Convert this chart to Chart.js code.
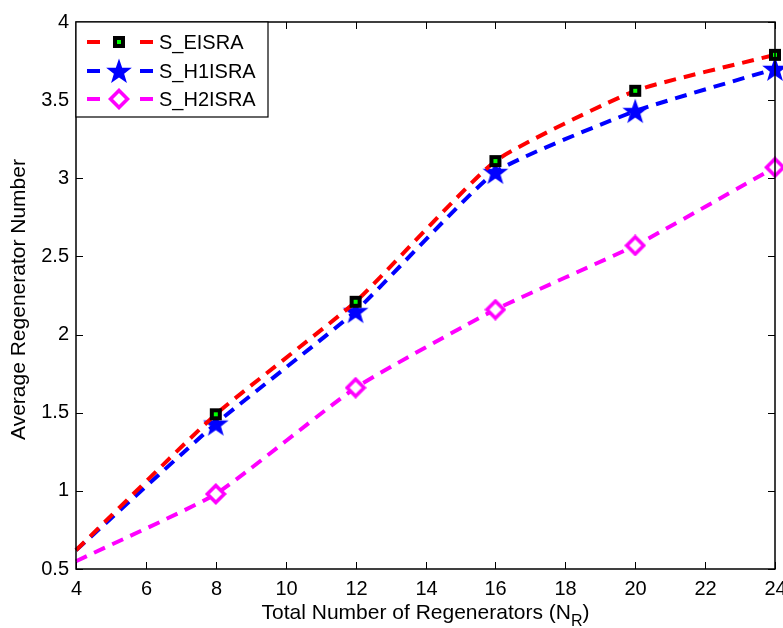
<!DOCTYPE html>
<html>
<head>
<meta charset="utf-8">
<script src="https://cdn.jsdelivr.net/npm/chart.js@4.4.1/dist/chart.umd.min.js"></script>
<style>
  html, body { margin: 0; padding: 0; background: #fff; }
  #wrap { width: 783px; height: 628px; position: relative; }
</style>
</head>
<body>
<div id="wrap"><canvas id="regenChart" width="783" height="628"></canvas></div>
<script>
// x values: total number of regenerators
const nrValues = [4, 8, 12, 16, 20, 24];

// average regenerator number per scheme
const eisraValues = [0.62, 1.49, 2.21, 3.11, 3.56, 3.79];
const h1israValues = [0.62, 1.43, 2.15, 3.04, 3.43, 3.70];
const h2israValues = [0.55, 0.98, 1.66, 2.16, 2.57, 3.07];

const seriesNames = ['S_EISRA', 'S_H1ISRA', 'S_H2ISRA'];

const xTicks = [4, 6, 8, 10, 12, 14, 16, 18, 20, 22, 24];
const yTicks = [0.5, 1, 1.5, 2, 2.5, 3, 3.5, 4];

const FONT = '"Liberation Sans", Arial, sans-serif';

/**
 * Marker images (MATLAB look)
 */
function makeSquare() {
    const c = document.createElement('canvas');
    c.width = 14; c.height = 14;
    const g = c.getContext('2d');
    g.fillStyle = '#000';
    g.fillRect(1, 1, 12, 12);
    g.fillStyle = '#00ff00';
    g.fillRect(5, 5, 4, 4);
    return c;
}

function makeStar() {
    const c = document.createElement('canvas');
    c.width = 28; c.height = 28;
    const g = c.getContext('2d');
    const cx = 14, cy = 15, ro = 13.5, ri = 5.4;
    g.beginPath();
    for (let i = 0; i < 10; i++) {
        const r = i % 2 === 0 ? ro : ri;
        const a = -Math.PI / 2 + i * Math.PI / 5;
        const px = cx + r * Math.cos(a), py = cy + r * Math.sin(a);
        if (i === 0) g.moveTo(px, py); else g.lineTo(px, py);
    }
    g.closePath();
    g.fillStyle = '#0000ff';
    g.fill();
    return c;
}

function makeDiamond() {
    const c = document.createElement('canvas');
    c.width = 22; c.height = 22;
    const g = c.getContext('2d');
    g.beginPath();
    g.moveTo(11, 2.5); g.lineTo(19.5, 11); g.lineTo(11, 19.5); g.lineTo(2.5, 11);
    g.closePath();
    g.fillStyle = '#fff';
    g.fill();
    g.lineWidth = 3.6;
    g.strokeStyle = '#ff00ff';
    g.stroke();
    return c;
}

const markers = [makeSquare(), makeStar(), makeDiamond()];
const colors = ['#ff0000', '#0000ff', '#ff00ff'];

function toPoints(ys) {
    return nrValues.map((x, i) => ({ x: x, y: ys[i] }));
}

// no marker at the first sample (x = 4)
const markerRadius = nrValues.map((x, i) => (i === 0 ? 0 : 8));

function makeDataset(idx, ys) {
    return {
        label: seriesNames[idx],
        data: toPoints(ys),
        borderColor: colors[idx],
        backgroundColor: colors[idx],
        borderWidth: 4,
        borderDash: [12, 8],
        borderCapStyle: 'butt',
        tension: 0.15,
        clip: 14,
        pointStyle: markers[idx],
        pointRadius: markerRadius,
        pointHoverRadius: markerRadius
    };
}

/**
 * Inner ticks on all four sides + box + x tick labels
 */
const matlabFrame = {
    id: 'matlabFrame',
    afterDatasetsDraw(chart) {
        const { ctx, chartArea: a, scales } = chart;
        ctx.save();
        ctx.strokeStyle = '#000';
        ctx.lineWidth = 1;
        ctx.fillStyle = '#000';
        ctx.font = '20px ' + FONT;
        ctx.textAlign = 'center';
        ctx.textBaseline = 'top';
        xTicks.forEach(v => {
            const px = Math.round(scales.x.getPixelForValue(v)) + 0.5;
            ctx.beginPath();
            ctx.moveTo(px, a.bottom); ctx.lineTo(px, a.bottom - 7);
            ctx.moveTo(px, a.top); ctx.lineTo(px, a.top + 7);
            ctx.stroke();
            ctx.fillText(String(v), px, a.bottom + 10);
        });
        yTicks.forEach(v => {
            const py = Math.round(scales.y.getPixelForValue(v)) + 0.5;
            ctx.beginPath();
            ctx.moveTo(a.left, py); ctx.lineTo(a.left + 7, py);
            ctx.moveTo(a.right, py); ctx.lineTo(a.right - 7, py);
            ctx.stroke();
        });
        ctx.lineWidth = 1.5;
        ctx.strokeRect(a.left, a.top, a.right - a.left, a.bottom - a.top);
        ctx.restore();
    }
};

/**
 * MATLAB style legend box (top-left) and axis titles
 */
const matlabLegend = {
    id: 'matlabLegend',
    afterDraw(chart) {
        const { ctx, chartArea: a } = chart;
        ctx.save();
        const bx = a.left, by = a.top, bw = 192, bh = 95;
        ctx.fillStyle = '#fff';
        ctx.fillRect(bx, by, bw, bh);
        ctx.strokeStyle = '#000';
        ctx.lineWidth = 1.2;
        ctx.strokeRect(bx, by, bw, bh);

        ctx.font = '20px ' + FONT;
        ctx.textBaseline = 'middle';
        ctx.textAlign = 'left';
        const rows = [20, 49, 77];
        rows.forEach((dy, i) => {
            const y = by + dy;
            ctx.strokeStyle = colors[i];
            ctx.lineWidth = 4;
            ctx.beginPath();
            ctx.moveTo(bx + 11, y); ctx.lineTo(bx + 24, y);
            ctx.moveTo(bx + 64, y); ctx.lineTo(bx + 77, y);
            ctx.stroke();
            const m = markers[i];
            ctx.drawImage(m, bx + 43 - m.width / 2, y - m.height / 2);
            ctx.fillStyle = '#000';
            ctx.fillText(seriesNames[i], bx + 83, y + 1);
        });

        // x-axis title with subscript
        ctx.fillStyle = '#000';
        ctx.font = '21px ' + FONT;
        ctx.textBaseline = 'alphabetic';
        const main = 'Total Number of Regenerators (N';
        const sub = 'R';
        const tail = ')';
        const wMain = ctx.measureText(main).width;
        ctx.font = '16px ' + FONT;
        const wSub = ctx.measureText(sub).width;
        ctx.font = '21px ' + FONT;
        const wTail = ctx.measureText(tail).width;
        const total = wMain + wSub + wTail;
        const x0 = (a.left + a.right) / 2 - total / 2;
        const yb = 619;
        ctx.fillText(main, x0, yb);
        ctx.font = '16px ' + FONT;
        ctx.fillText(sub, x0 + wMain, yb + 7);
        ctx.font = '21px ' + FONT;
        ctx.fillText(tail, x0 + wMain + wSub, yb);

        // y-axis title
        ctx.translate(19, (a.top + a.bottom) / 2 + 4);
        ctx.rotate(-Math.PI / 2);
        ctx.textAlign = 'center';
        ctx.textBaseline = 'middle';
        ctx.fillText('Average Regenerator Number', 0, 0);
        ctx.restore();
    }
};

new Chart(document.getElementById('regenChart'), {
    type: 'line',
    data: {
        datasets: [
            makeDataset(0, eisraValues),
            makeDataset(1, h1israValues),
            makeDataset(2, h2israValues)
        ]
    },
    options: {
        responsive: false,
        animation: false,
        layout: { autoPadding: false, padding: { top: 22, right: 8, left: 0, bottom: 0 } },
        plugins: {
            legend: { display: false },
            tooltip: { enabled: false }
        },
        scales: {
            x: {
                type: 'linear',
                min: 4,
                max: 24,
                afterBuildTicks: s => { s.ticks = xTicks.map(v => ({ value: v })); },
                afterFit: s => { s.height = 59; },
                grid: { display: false, drawTicks: false },
                border: { display: false },
                ticks: { display: false }
            },
            y: {
                type: 'linear',
                min: 0.5,
                max: 4,
                afterBuildTicks: s => { s.ticks = yTicks.map(v => ({ value: v })); },
                afterFit: s => { s.width = 76; },
                grid: { display: false, drawTicks: false },
                border: { display: false },
                ticks: {
                    color: '#000',
                    padding: 7,
                    autoSkip: false,
                    font: { family: FONT, size: 20 },
                    callback: v => String(v)
                }
            }
        }
    },
    plugins: [matlabFrame, matlabLegend]
});
</script>
</body>
</html>
